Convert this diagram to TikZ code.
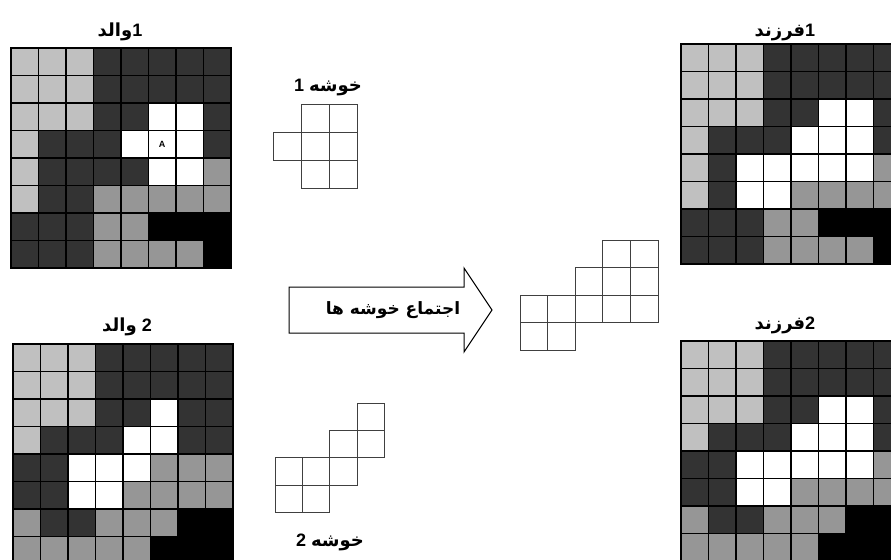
\documentclass[tikz,border=0pt]{standalone}
\usepackage{fontspec}
\setmainfont{Liberation Sans}
\newfontfamily\arabicfont[Script=Arabic]{DejaVu Sans}
\TeXXeTstate=1
\usetikzlibrary{positioning}

\definecolor{cL}{HTML}{C0C0C0}
\definecolor{cD}{HTML}{333333}
\definecolor{cM}{HTML}{969696}
\definecolor{cK}{HTML}{000000}
\definecolor{cW}{HTML}{FFFFFF}

% 8x8 pixel grid: origin x, origin y, rows of colour letters
\newcommand{\pixgrid}[3]{%
  \foreach \row [count=\r from 0] in {#3} {
    \foreach \c [count=\k from 0] in \row {
      \filldraw[fill=c\c, draw=black, line width=0.6pt]
        ({#1+\k*27.5},{#2+\r*27.5}) rectangle ++(27.5,27.5);
    }
  }
}
% cluster of empty cells: origin x, origin y, cell size, col/row list
\newcommand{\clustercells}[4]{%
  \foreach \i/\j in {#4} {
    \draw[clusterbox] ({#1+\i*#3},{#2+\j*#3}) rectangle ++(#3,#3);
  }
}

\begin{document}
\begin{tikzpicture}[x=0.5pt, y=-0.5pt,
    lbl/.style={font=\fontsize{9}{11}\selectfont\bfseries, inner sep=1pt},
    clusterbox/.style={draw=black!75, fill=white, line width=0.5pt},
    arrowbox/.style={draw=black, fill=white, line width=0.5pt}]
    \useasboundingbox (0,0) rectangle (891,559);
    \clip (0,0) rectangle (891,559);

    % والدین
    \pixgrid{11}{48}{{L,L,L,D,D,D,D,D},{L,L,L,D,D,D,D,D},{L,L,L,D,D,W,W,D},{L,D,D,D,W,W,W,D},
      {L,D,D,D,D,W,W,M},{L,D,D,M,M,M,M,M},{D,D,D,M,M,K,K,K},{D,D,D,M,M,M,M,K}}
    \pixgrid{13}{344}{{L,L,L,D,D,D,D,D},{L,L,L,D,D,D,D,D},{L,L,L,D,D,W,D,D},{L,D,D,D,W,W,D,D},
      {D,D,W,W,W,M,M,M},{D,D,W,W,M,M,M,M},{M,D,D,M,M,M,K,K},{M,M,M,M,M,K,K,K}}

    % فرزندان
    \pixgrid{681}{44}{{L,L,L,D,D,D,D,D},{L,L,L,D,D,D,D,D},{L,L,L,D,D,W,W,D},{L,D,D,D,W,W,W,D},
      {L,D,W,W,W,W,W,M},{L,D,W,W,M,M,M,M},{D,D,D,M,M,K,K,K},{D,D,D,M,M,M,M,K}}
    \pixgrid{681}{341}{{L,L,L,D,D,D,D,D},{L,L,L,D,D,D,D,D},{L,L,L,D,D,W,W,D},{L,D,D,D,W,W,W,D},
      {D,D,W,W,W,W,W,M},{D,D,W,W,M,M,M,M},{M,D,D,M,M,M,K,K},{M,M,M,M,M,K,K,K}}

    \node[font=\fontsize{4.5}{5}\selectfont\bfseries, inner sep=0pt] (cellA) at (162,144) {A};

    % خوشه‌ها
    \clustercells{273}{104}{28}{1/0,2/0,0/1,1/1,2/1,1/2,2/2}
    \clustercells{275}{403}{27.4}{3/0,2/1,3/1,0/2,1/2,2/2,0/3,1/3}
    \clustercells{520}{240}{27.6}{3/0,4/0,2/1,3/1,4/1,0/2,1/2,2/2,3/2,4/2,0/3,1/3}

    % پیکان
    \draw[arrowbox] (289,287) -- (464,287) -- (464,268) -- (492,310) -- (464,352)
      -- (464,333) -- (289,333) -- cycle;
    \node[lbl, font=\fontsize{8.5}{10}\selectfont\bfseries] (merge) at (393,310)
      {\arabicfont\beginR اجتماع خوشه ها\endR};

    % برچسب‌ها
    \node[lbl] (parent1) at (120,32) {{\arabicfont\beginR والد\endR}1};
    \node[lbl] (parent2) at (127,327) {{\arabicfont\beginR والد\endR} 2};
    \node[lbl] (child1) at (785,32) {{\arabicfont\beginR فرزند\endR}1};
    \node[lbl] (child2) at (785,325) {{\arabicfont\beginR فرزند\endR}2};
    \node[lbl] (clus1) at (328,87) {1 {\arabicfont\beginR خوشه\endR}};
    \node[lbl] (clus2) at (330,542) {2 {\arabicfont\beginR خوشه\endR}};
\end{tikzpicture}
\end{document}
